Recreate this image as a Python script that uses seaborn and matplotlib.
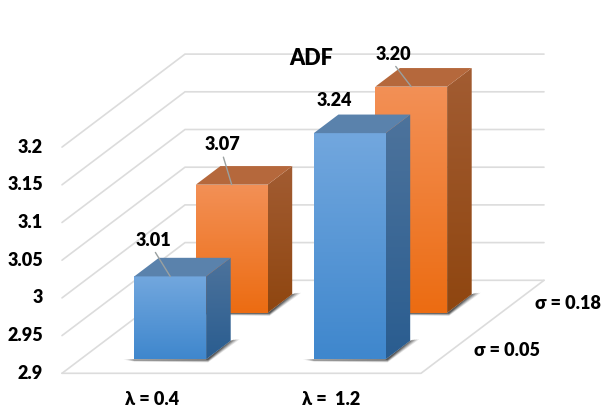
import numpy as np
import matplotlib
matplotlib.use("Agg")
import matplotlib.pyplot as plt
from matplotlib.colors import to_rgb
from matplotlib.patches import Polygon
import seaborn as sns

# Chart content
categories = ["λ = 0.4", "λ =  1.2"]
series_names = ["σ = 0.05", "σ = 0.18"]
values_low_sigma = [3.01, 3.24]
values_high_sigma = [3.07, 3.20]
y_ticks = [2.9, 2.95, 3.0, 3.05, 3.1, 3.15, 3.2]
y_tick_labels = ["2.9", "2.95", "3", "3.05", "3.1", "3.15", "3.2"]
title = "ADF"

# Oblique projection: one unit of depth moves a point right and up
W, H = 606, 412
PX_PER_CAT = 179.5
PX_PER_VAL = 754.0
LEFT_PX, FLOOR_PX = 62.0, 373.3
DEPTH_X = 123.0 / PX_PER_CAT
DEPTH_Y = 93.0 / PX_PER_VAL
Y_MIN, Y_MAX = y_ticks[0], y_ticks[-1]
PX_X = 1 / PX_PER_CAT
PX_Y = 1 / PX_PER_VAL

sns.set_theme(style="white")
plt.rcParams["font.family"] = ["Lato", "DejaVu Sans"]
TEXT = "#000000"
GRID = "#dcdcdc"
WEIGHT = "heavy"
LABEL_SIZE = 13

fig = plt.figure(figsize=(W / 100, H / 100), dpi=100, facecolor="white")
ax = fig.add_axes([0, 0, 1, 1])
x_lim = (-0.5 - LEFT_PX * PX_X, -0.5 + (W - LEFT_PX) * PX_X)
y_lim = (Y_MIN - (H - FLOOR_PX) * PX_Y, Y_MIN + FLOOR_PX * PX_Y)


def project(x, y, depth):
    return x + depth * DEPTH_X, y + depth * DEPTH_Y


def gradient_fill(points, top, bottom, zorder):
    """Fill a polygon with a vertical two-colour gradient."""
    pts = np.array(points)
    ramp = np.linspace(0, 1, 64)[:, None, None]
    img = (1 - ramp) * np.array(to_rgb(top))[None, None, :] + ramp * np.array(to_rgb(bottom))[None, None, :]
    im = ax.imshow(img, extent=(pts[:, 0].min(), pts[:, 0].max(), pts[:, 1].min(), pts[:, 1].max()),
                   aspect="auto", origin="upper", interpolation="bilinear", zorder=zorder)
    im.set_clip_path(Polygon(pts, closed=True, transform=ax.transData))


def draw_row(values, d_center, colors, zorder):
    """Draw one depth row of boxes: shadow, front face, side face and lid."""
    d0, d1 = d_center - 0.10, d_center + 0.10
    shift_x, base = project(0, Y_MIN, d0)
    positions = np.arange(len(values)) + shift_x
    heights = np.minimum(values, Y_MAX) - Y_MIN  # the value axis stops at its maximum
    before = len(ax.patches)
    sns.barplot(x=positions, y=heights, native_scale=True, width=0.4, bottom=base,
                color=colors["front_top"], saturation=1, ax=ax, linewidth=0, zorder=zorder)
    tops = []
    for patch in ax.patches[before:]:
        x0, x1 = patch.get_x(), patch.get_x() + patch.get_width()
        b, t = patch.get_y(), patch.get_y() + patch.get_height()
        dx, dy = (d1 - d0) * DEPTH_X, (d1 - d0) * DEPTH_Y

        # soft contact shadow on the floor
        for grow, alpha in zip([1.0, 0.8, 0.6, 0.4, 0.2], [0.12, 0.18, 0.24, 0.3, 0.36]):
            ax.add_patch(Polygon(
                [(x0 - 11 * grow * PX_X, b - 0.2 * PX_Y),
                 (x0, b - 2.2 * grow * PX_Y),
                 (x1 + 2 * PX_X, b - 3 * grow * PX_Y),
                 (x1 + dx + 9 * grow * PX_X, b + dy + 1.5 * PX_Y),
                 (x1 + dx, b + dy), (x1, b)],
                closed=True, facecolor="#222222", edgecolor="none", alpha=alpha, zorder=zorder - 0.5))

        gradient_fill([(x0, b), (x1, b), (x1, t), (x0, t)], colors["front_top"], colors["front_bottom"], zorder + 0.1)
        gradient_fill([(x1, b), (x1, t), (x1 + dx, t + dy), (x1 + dx, b + dy)],
                      colors["side_top"], colors["side_bottom"], zorder + 0.1)
        ax.add_patch(Polygon([(x0, t), (x1, t), (x1 + dx, t + dy), (x0 + dx, t + dy)],
                             closed=True, facecolor=colors["lid"], edgecolor="none", zorder=zorder + 0.1))
        tops.append(((x0 + x1) / 2, t))
    return tops


# Walls and floor
for tick in y_ticks:
    bx, by = project(-0.5, tick, 1)
    rx, _ = project(1.5, tick, 1)
    ax.plot([-0.5, bx, rx], [tick, by, by], color=GRID, lw=1.2, zorder=1, solid_joinstyle="miter")
fx, fy = project(1.5, Y_MIN, 1)
ax.plot([-0.5, 1.5, fx], [Y_MIN, Y_MIN, fy], color=GRID, lw=1.2, zorder=1)

orange = dict(front_top="#f39056", front_bottom="#ec6c12", side_top="#a25c32", side_bottom="#8f4610", lid="#b5683c")
blue = dict(front_top="#72a7de", front_bottom="#3f87cd", side_top="#4d739c", side_bottom="#2a5d90", lid="#5a82ac")

tops_back = draw_row(values_high_sigma, 0.75, orange, 3)
tops_front = draw_row(values_low_sigma, 0.25, blue, 6)


def value_label(text, top, offset, leader):
    arrow = None
    if leader:
        arrow = dict(arrowstyle="-", color="#9aa0a0", lw=1.0, relpos=(0.5, 0), shrinkA=3, shrinkB=0, patchA=None)
    ax.annotate(text, xy=top, xytext=offset, textcoords="offset pixels", ha="center", va="center",
                fontsize=LABEL_SIZE, fontweight=WEIGHT, color=TEXT, arrowprops=arrow, zorder=12)


value_label(f"{values_low_sigma[0]:.2f}", tops_front[0], (-17, 36), True)
value_label(f"{values_low_sigma[1]:.2f}", tops_front[1], (-15, 33), False)
value_label(f"{values_high_sigma[0]:.2f}", tops_back[0], (-9.5, 40), True)
value_label(f"{values_high_sigma[1]:.2f}", tops_back[1], (-18, 32), True)

# Value axis labels
for tick, label in zip(y_ticks, y_tick_labels):
    ax.annotate(label, xy=(-0.5, tick), xytext=(-19, 0), textcoords="offset pixels", ha="right", va="center",
                fontsize=LABEL_SIZE, fontweight=WEIGHT, color=TEXT)

# Category labels below the floor
for i, label in enumerate(categories):
    ax.annotate(label, xy=(i, Y_MIN), xytext=(0, -26), textcoords="offset pixels", ha="center", va="center",
                fontsize=LABEL_SIZE, fontweight=WEIGHT, color=TEXT)

# Depth labels beside the floor edge
for d, label in zip([0.25, 0.75], series_names):
    ax.annotate(label, xy=project(1.5, Y_MIN, d), xytext=(22, 0), textcoords="offset pixels", ha="left", va="center",
                fontsize=LABEL_SIZE, fontweight=WEIGHT, color=TEXT)

# Title sits in the plot area near the back wall
ax.text(0.5 * (x_lim[0] + x_lim[1]) + 8.5 * PX_X, y_lim[1] - 58 * PX_Y, title, ha="center", va="center",
        fontsize=15.5, fontweight=WEIGHT, color=TEXT, zorder=2)

ax.set_xlim(x_lim)
ax.set_ylim(y_lim)
ax.axis("off")
fig.savefig("out.png", dpi=100, facecolor="white")
